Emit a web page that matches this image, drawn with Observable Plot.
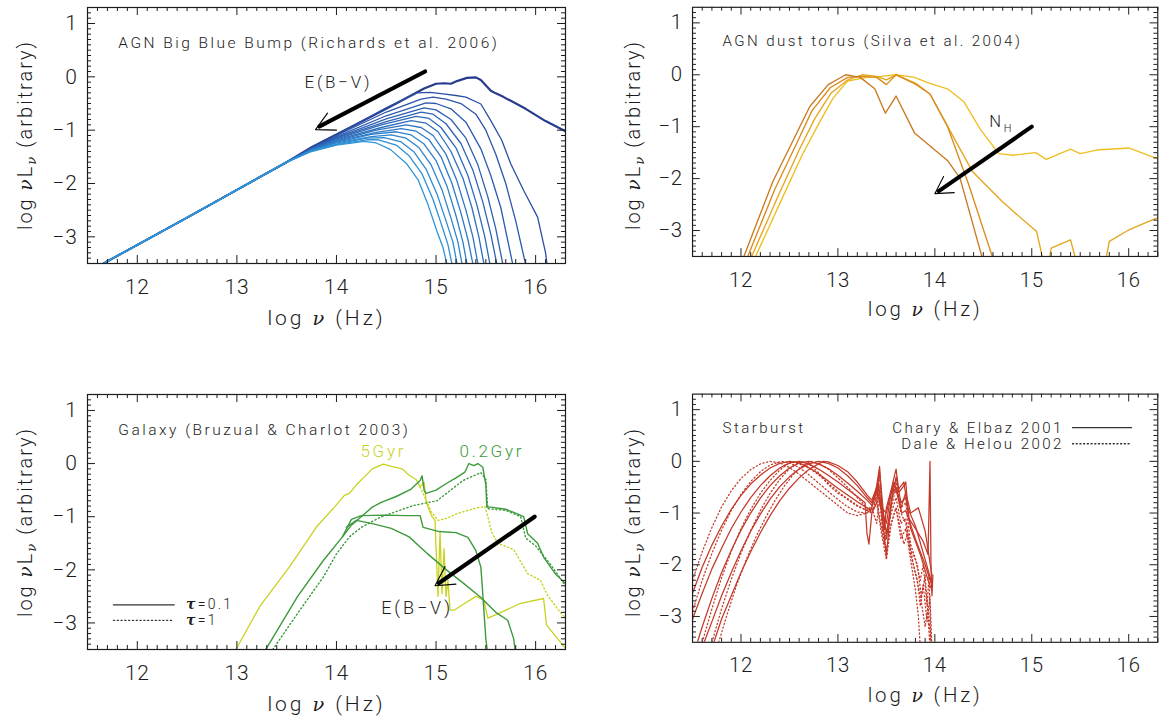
<!DOCTYPE html>
<html><head><meta charset="utf-8">
<script src="https://cdn.jsdelivr.net/npm/d3@7"></script>
<script src="https://cdn.jsdelivr.net/npm/@observablehq/plot@0.6"></script>
<style>
html,body{margin:0;padding:0;background:#fff;}
body{width:1168px;height:719px;overflow:hidden;position:relative;}
.panel{position:absolute;}
.ylab{position:absolute;width:320px;height:26px;line-height:26px;text-align:center;transform:rotate(-90deg);transform-origin:50% 50%;
  font-family:Roboto,"Open Sans",sans-serif;font-weight:300;font-size:20px;letter-spacing:0.1em;color:#1c1c1c;white-space:nowrap;}
.ylab .g{font-family:"DejaVu Serif",serif;font-style:italic;font-weight:400;font-size:92%;}
.ylab .s{font-size:66%;position:relative;top:0.32em;}
</style></head><body>
<div id="p1" class="panel" style="left:0px;top:0px"></div>
<div id="p2" class="panel" style="left:584px;top:0px"></div>
<div id="p3" class="panel" style="left:0px;top:380px"></div>
<div id="p4" class="panel" style="left:584px;top:380px"></div>
<script>
// ---------- shared axis definitions ----------
const xDomain = [11.5, 16.3];
const yDomain = [-3.5, 1.3];
const xMajorTicks = [12, 13, 14, 15, 16];
const yMajorTicks = [-3, -2, -1, 0, 1];
const xTitle = "log ν (Hz)";
const yTitle = "log νL_ν (arbitrary)";

// ---------- Panel 1: AGN Big Blue Bump (Richards et al. 2006) ----------
const agnTitle = "AGN Big Blue Bump (Richards et al. 2006)";
const agnShared = [[11.66,-3.5],[12.5,-2.64],[13.0,-2.12],[13.5,-1.6]];
const agnTop = [[13.75,-1.32],[14.2,-0.89],[14.6,-0.5],[14.88,-0.22],[15.0,-0.13],[15.08,-0.12],[15.15,-0.13],[15.21,-0.08],[15.31,-0.02],[15.4,-0.01],[15.45,-0.06],[15.55,-0.26],[15.6,-0.31],[15.68,-0.38],[15.9,-0.6],[16.1,-0.83],[16.3,-1.02]];
const agnReddened = [
  [[13.75,-1.33],[14.0,-1.09],[14.5,-0.58],[14.81,-0.3],[14.94,-0.29],[15.07,-0.32],[15.2,-0.35],[15.3,-0.38],[15.45,-0.51],[15.55,-0.82],[15.66,-1.19],[15.75,-1.63],[15.88,-2.13],[16.02,-2.63],[16.1,-3.3],[16.12,-3.6]],
  [[13.75,-1.34],[14.0,-1.1],[14.5,-0.66],[14.85,-0.42],[14.97,-0.38],[15.1,-0.42],[15.25,-0.5],[15.4,-0.7],[15.5,-1.0],[15.6,-1.45],[15.7,-2.0],[15.8,-2.7],[15.91,-3.6]],
  [[13.75,-1.34],[14.0,-1.12],[14.5,-0.73],[14.9,-0.49],[15.0,-0.5],[15.15,-0.6],[15.3,-0.85],[15.45,-1.35],[15.55,-1.85],[15.65,-2.45],[15.78,-3.6]],
  [[13.75,-1.35],[14.0,-1.14],[14.5,-0.79],[14.88,-0.58],[15.0,-0.62],[15.15,-0.8],[15.3,-1.15],[15.42,-1.65],[15.52,-2.25],[15.6,-2.85],[15.68,-3.6]],
  [[13.75,-1.35],[14.0,-1.15],[14.5,-0.84],[14.85,-0.66],[14.97,-0.7],[15.1,-0.88],[15.25,-1.25],[15.37,-1.75],[15.47,-2.35],[15.55,-2.95],[15.62,-3.6]],
  [[13.75,-1.36],[14.0,-1.17],[14.45,-0.9],[14.8,-0.74],[14.93,-0.78],[15.05,-0.95],[15.2,-1.33],[15.32,-1.85],[15.41,-2.4],[15.49,-3.0],[15.55,-3.6]],
  [[13.75,-1.36],[14.0,-1.18],[14.45,-0.95],[14.75,-0.82],[14.9,-0.87],[15.02,-1.03],[15.15,-1.4],[15.27,-1.9],[15.36,-2.45],[15.43,-3.0],[15.49,-3.6]],
  [[13.75,-1.37],[14.0,-1.2],[14.4,-1.0],[14.7,-0.9],[14.85,-0.95],[14.97,-1.1],[15.1,-1.45],[15.21,-1.95],[15.3,-2.5],[15.37,-3.0],[15.43,-3.6]],
  [[13.75,-1.37],[14.0,-1.21],[14.4,-1.04],[14.65,-0.97],[14.8,-1.02],[14.93,-1.18],[15.05,-1.5],[15.16,-2.0],[15.25,-2.55],[15.32,-3.05],[15.38,-3.6]],
  [[13.75,-1.38],[14.0,-1.23],[14.35,-1.08],[14.6,-1.03],[14.75,-1.09],[14.88,-1.26],[15.0,-1.57],[15.11,-2.05],[15.2,-2.6],[15.27,-3.1],[15.32,-3.6]],
  [[13.75,-1.38],[14.0,-1.24],[14.35,-1.12],[14.55,-1.09],[14.7,-1.15],[14.83,-1.33],[14.95,-1.65],[15.06,-2.12],[15.15,-2.65],[15.22,-3.1],[15.27,-3.6]],
  [[13.75,-1.39],[14.0,-1.26],[14.3,-1.15],[14.48,-1.14],[14.65,-1.22],[14.78,-1.41],[14.9,-1.73],[15.01,-2.2],[15.1,-2.7],[15.17,-3.1],[15.22,-3.6]],
  [[13.75,-1.39],[14.0,-1.27],[14.3,-1.18],[14.42,-1.18],[14.6,-1.28],[14.73,-1.48],[14.86,-1.82],[14.97,-2.3],[15.06,-2.8],[15.12,-3.15],[15.17,-3.6]],
  [[13.75,-1.4],[14.0,-1.28],[14.28,-1.21],[14.4,-1.24],[14.54,-1.36],[14.7,-1.62],[14.82,-1.93],[14.92,-2.4],[15.01,-2.9],[15.07,-3.2],[15.12,-3.6]]
];
const agnArrowShaft = [[14.89,0.10],[13.83,-0.93]];
const agnArrowHead = [[13.91,-0.68],[13.79,-0.99],[14.0,-1.0]];
const agnArrowLabel = {x: 14.02, y: -0.11, t: "E(B−V)"};

// ---------- Panel 2: AGN dust torus (Silva et al. 2004) ----------
const torusTitle = "AGN dust torus (Silva et al. 2004)";
const torusA = [[12.03,-3.5],[12.33,-2.05],[12.56,-1.18],[12.71,-0.61],[12.9,-0.19],[13.08,0.0],[13.23,-0.05],[13.38,-0.27],[13.49,-0.74],[13.6,-0.41],[13.79,-1.12],[14.13,-1.65],[14.26,-1.99],[14.5,-3.6]];
const torusB = [[12.07,-3.5],[12.35,-2.2],[12.58,-1.3],[12.73,-0.7],[12.92,-0.25],[13.1,-0.05],[13.25,-0.03],[13.4,-0.05],[13.5,-0.19],[13.6,0.0],[13.8,-0.18],[13.95,-0.37],[14.13,-0.99],[14.35,-2.12],[14.61,-3.6]];
const torusC = [[12.11,-3.5],[12.38,-2.35],[12.6,-1.45],[12.76,-0.85],[12.93,-0.35],[13.1,-0.1],[13.25,0.0],[13.4,-0.03],[13.5,-0.1],[13.6,0.0],[13.8,-0.16],[13.95,-0.37],[14.13,-0.99],[14.39,-1.87],[14.69,-2.43],[14.84,-2.68],[15.05,-3.02],[15.12,-3.6],[15.15,-3.9],[15.2,-3.34],[15.4,-3.18],[15.46,-3.6],[15.6,-3.9],[15.76,-3.6],[15.8,-3.21],[16.0,-2.99],[16.3,-2.75]];
const torusD = [[12.15,-3.5],[12.42,-2.4],[12.63,-1.55],[12.8,-0.95],[12.95,-0.45],[13.1,-0.12],[13.3,-0.05],[13.45,-0.03],[13.6,0.0],[13.79,-0.05],[13.94,-0.16],[14.13,-0.27],[14.3,-0.52],[14.47,-1.05],[14.66,-1.52],[14.81,-1.55],[15.04,-1.5],[15.15,-1.63],[15.4,-1.43],[15.5,-1.52],[15.67,-1.45],[16.0,-1.41],[16.3,-1.62]];
const torusArrowShaft = [[15.0,-1.0],[14.04,-2.24]];
const torusArrowHead = [[14.09,-1.96],[14.0,-2.29],[14.2,-2.27]];
const torusArrowLabel = {x: 14.69, y: -0.9, t: "N_H"};

// ---------- Panel 3: Galaxy (Bruzual & Charlot 2003) ----------
const galTitle = "Galaxy (Bruzual & Charlot 2003)";
const gal5GyrSolid = [[12.99,-3.5],[13.23,-2.69],[13.53,-1.94],[13.8,-1.19],[13.98,-0.82],[14.08,-0.6],[14.13,-0.56],[14.2,-0.4],[14.28,-0.25],[14.36,-0.1],[14.47,-0.01],[14.54,-0.05],[14.66,-0.1],[14.73,-0.22],[14.8,-0.3],[14.84,-0.44],[14.88,-0.35],[14.9,-0.7],[14.92,-0.82],[14.96,-1.0],[14.99,-1.07],[15.0,-1.6],[15.02,-2.5],[15.04,-1.3],[15.06,-2.45],[15.08,-1.6],[15.1,-2.5],[15.12,-2.2],[15.14,-2.76],[15.18,-2.76],[15.29,-2.63],[15.4,-2.5],[15.48,-2.57],[15.52,-2.91],[15.63,-2.82],[15.85,-2.63],[16.08,-2.54],[16.11,-3.04],[16.3,-3.48]];
const gal5GyrDotted = [[14.84,-0.44],[14.87,-0.56],[14.95,-0.9],[15.02,-1.07],[15.11,-1.03],[15.2,-0.95],[15.32,-0.88],[15.42,-0.83],[15.49,-0.81],[15.52,-1.0],[15.56,-1.3],[15.62,-1.5],[15.78,-1.62],[15.92,-2.07],[16.05,-2.2],[16.11,-2.45],[16.23,-2.76],[16.3,-2.91]];
const gal02Solid = [[13.29,-3.5],[13.61,-2.5],[13.87,-1.82],[14.06,-1.38],[14.15,-1.16],[14.36,-0.82],[14.45,-0.73],[14.6,-0.62],[14.75,-0.48],[14.84,-0.32],[14.86,-0.23],[14.88,-0.5],[14.9,-0.56],[15.0,-0.5],[15.1,-0.38],[15.2,-0.27],[15.29,-0.16],[15.33,0.0],[15.38,-0.04],[15.42,0.0],[15.47,-0.07],[15.5,-0.4],[15.51,-0.82],[15.55,-0.82],[15.7,-0.86],[15.78,-0.92],[15.88,-1.0],[15.92,-1.32],[16.02,-1.5],[16.08,-1.76],[16.2,-2.08],[16.3,-2.26]];
const gal02Dotted = [[13.36,-3.5],[13.61,-2.82],[13.87,-2.13],[14.0,-1.7],[14.13,-1.38],[14.25,-1.2],[14.44,-1.01],[14.77,-0.79],[15.01,-0.7],[15.27,-0.32],[15.45,-0.17],[15.5,-0.3],[15.52,-0.85],[15.7,-0.88],[15.85,-1.0],[15.9,-1.4],[16.0,-1.55],[16.15,-1.9],[16.3,-2.3]];
const gal02RedA = [[14.06,-1.38],[14.15,-1.05],[14.25,-0.98],[14.5,-0.97],[14.7,-0.98],[14.84,-0.98],[14.87,-1.2],[14.91,-1.22],[15.03,-1.28],[15.2,-1.3],[15.32,-1.39],[15.4,-1.64],[15.45,-1.95],[15.46,-2.2],[15.5,-3.3],[15.52,-3.6]];
const gal02RedB = [[14.1,-1.2],[14.2,-1.07],[14.36,-1.13],[14.55,-1.22],[14.73,-1.38],[14.84,-1.57],[14.91,-1.69],[15.11,-2.01],[15.28,-2.26],[15.45,-2.52],[15.6,-2.8],[15.72,-2.95],[15.78,-3.3],[15.8,-3.6]];
const galArrowShaft = [[15.99,-1.0],[15.03,-2.25]];
const galArrowHead = [[15.09,-1.94],[14.99,-2.3],[15.2,-2.27]];
const galArrowLabel = {x: 14.81, y: -2.72, t: "E(B−V)"};
const galAgeLabels = [{x: 14.47, y: 0.23, t: "5Gyr", c: "young"}, {x: 15.56, y: 0.23, t: "0.2Gyr", c: "old"}];
const galLegend = [{t: "τ=0.1", y: -2.66, dash: false}, {t: "τ=1", y: -2.95, dash: true}];
const galLegendX = [11.76, 12.37];

// ---------- Panel 4: Starburst ----------
const sbTitle = "Starburst";
const sbChary = [
  [[11.5,-2.55],[11.6,-2.05],[11.7,-1.62],[11.8,-1.25],[11.9,-0.93],[12.0,-0.66],[12.1,-0.44],[12.2,-0.27],[12.3,-0.13],[12.4,-0.04],[12.5,0],[12.6,-0.03],[12.7,-0.12],[12.8,-0.24],[12.9,-0.38],[13.0,-0.52],[13.1,-0.65],[13.2,-0.78],[13.3,-0.9],[13.34,-0.95],[13.38,-0.7],[13.41,-0.35],[13.43,-0.1],[13.45,-0.75],[13.48,-1.3],[13.5,-0.9],[13.55,-0.55],[13.58,-0.3],[13.6,-0.15],[13.63,-0.6],[13.67,-0.5],[13.7,-0.4],[13.73,-1.1],[13.8,-1.3],[13.88,-1.55],[13.93,-1.8],[13.95,0.0],[13.96,-2.0],[13.97,-2.6],[13.98,-2.2]],
  [[11.5,-3.05],[11.6,-2.55],[11.7,-2.08],[11.8,-1.68],[11.9,-1.3],[12.0,-0.98],[12.1,-0.7],[12.2,-0.47],[12.3,-0.28],[12.4,-0.13],[12.5,-0.03],[12.6,0],[12.7,-0.05],[12.8,-0.15],[12.9,-0.27],[13.0,-0.4],[13.1,-0.54],[13.2,-0.68],[13.28,-0.8],[13.3,-1.4],[13.32,-1.6],[13.35,-1.0],[13.4,-0.8],[13.42,-0.45],[13.46,-1.1],[13.5,-1.85],[13.53,-1.2],[13.57,-0.45],[13.6,-0.5],[13.65,-0.9],[13.7,-0.6],[13.75,-1.0],[13.83,-0.9],[13.9,-1.35],[13.97,-2.2]],
  [[11.55,-3.5],[11.6,-3.2],[11.7,-2.65],[11.8,-2.15],[11.9,-1.72],[12.0,-1.33],[12.1,-1.0],[12.2,-0.71],[12.3,-0.47],[12.4,-0.28],[12.5,-0.13],[12.6,-0.03],[12.7,0],[12.8,-0.05],[12.9,-0.14],[13.0,-0.27],[13.1,-0.42],[13.2,-0.58],[13.3,-0.75],[13.35,-0.85],[13.4,-0.6],[13.43,-0.2],[13.47,-1.0],[13.5,-1.4],[13.55,-0.8],[13.6,-0.3],[13.65,-0.8],[13.7,-0.7],[13.75,-1.3],[13.85,-1.8],[13.93,-2.3],[13.97,-2.5]],
  [[11.62,-3.5],[11.7,-3.1],[11.8,-2.6],[11.9,-2.15],[12.0,-1.73],[12.1,-1.35],[12.2,-1.02],[12.3,-0.73],[12.4,-0.49],[12.5,-0.3],[12.6,-0.15],[12.7,-0.05],[12.8,0],[12.9,-0.04],[13.0,-0.13],[13.1,-0.28],[13.2,-0.47],[13.3,-0.7],[13.35,-0.8],[13.4,-0.55],[13.44,-0.9],[13.5,-1.2],[13.55,-0.6],[13.58,-0.4],[13.62,-0.7],[13.66,-1.0],[13.7,-0.95],[13.8,-1.5],[13.9,-2.0],[13.97,-2.4]],
  [[11.72,-3.5],[11.8,-3.05],[11.9,-2.6],[12.0,-2.15],[12.1,-1.75],[12.2,-1.38],[12.3,-1.05],[12.4,-0.76],[12.5,-0.52],[12.6,-0.32],[12.7,-0.16],[12.8,-0.05],[12.85,0],[12.9,-0.01],[13.0,-0.08],[13.1,-0.2],[13.2,-0.4],[13.3,-0.65],[13.35,-0.75],[13.4,-0.5],[13.45,-0.9],[13.5,-1.0],[13.56,-0.5],[13.6,-0.6],[13.68,-0.4],[13.72,-0.9],[13.8,-1.25],[13.9,-1.9],[13.96,-2.3]]
];
const sbDale = [
  [[11.5,-2.3],[11.6,-1.75],[11.7,-1.28],[11.8,-0.88],[11.9,-0.57],[12.0,-0.33],[12.1,-0.16],[12.2,-0.05],[12.3,0],[12.4,-0.03],[12.5,-0.12],[12.6,-0.25],[12.7,-0.4],[12.8,-0.55],[12.9,-0.7],[13.0,-0.85],[13.1,-1.0],[13.2,-1.05],[13.3,-1.0],[13.35,-0.9],[13.4,-1.2],[13.43,-0.7],[13.47,-1.5],[13.5,-1.7],[13.55,-1.2],[13.6,-0.9],[13.65,-1.5],[13.7,-1.3],[13.75,-1.9],[13.8,-2.5],[13.83,-3.0],[13.85,-3.6]],
  [[11.5,-2.9],[11.6,-2.3],[11.7,-1.78],[11.8,-1.33],[11.9,-0.95],[12.0,-0.64],[12.1,-0.39],[12.2,-0.2],[12.3,-0.07],[12.42,0],[12.5,-0.03],[12.6,-0.12],[12.7,-0.26],[12.8,-0.42],[12.9,-0.58],[13.0,-0.74],[13.1,-0.88],[13.2,-0.98],[13.3,-1.0],[13.35,-0.9],[13.4,-0.5],[13.43,-0.3],[13.46,-1.1],[13.5,-1.5],[13.55,-0.8],[13.6,-0.4],[13.65,-0.9],[13.7,-0.8],[13.75,-1.6],[13.82,-2.0],[13.86,-2.6],[13.9,-2.2],[13.93,-3.0],[13.95,-3.6]],
  [[11.6,-3.5],[11.7,-2.85],[11.8,-2.25],[11.9,-1.74],[12.0,-1.3],[12.1,-0.93],[12.2,-0.62],[12.3,-0.37],[12.4,-0.17],[12.52,0],[12.6,-0.05],[12.7,-0.13],[12.8,-0.26],[12.9,-0.42],[13.0,-0.58],[13.1,-0.74],[13.2,-0.87],[13.3,-0.95],[13.35,-1.0],[13.4,-0.7],[13.44,-1.2],[13.48,-1.6],[13.55,-1.0],[13.6,-0.7],[13.65,-1.2],[13.7,-1.1],[13.75,-1.7],[13.8,-1.9],[13.85,-2.3],[13.88,-2.0],[13.92,-2.8],[13.94,-2.2],[13.96,-3.6]],
  [[11.7,-3.5],[11.8,-2.85],[11.9,-2.28],[12.0,-1.78],[12.1,-1.34],[12.2,-0.95],[12.3,-0.62],[12.4,-0.35],[12.5,-0.14],[12.62,0],[12.7,-0.05],[12.8,-0.22],[12.9,-0.45],[13.0,-0.62],[13.1,-0.72],[13.2,-0.85],[13.3,-0.95],[13.38,-0.8],[13.42,-0.4],[13.46,-1.3],[13.5,-1.5],[13.55,-0.9],[13.6,-0.5],[13.65,-1.0],[13.7,-1.2],[13.75,-1.8],[13.82,-2.3],[13.85,-2.8],[13.88,-2.4],[13.92,-3.1],[13.95,-2.6],[13.97,-3.6]],
  [[11.77,-3.5],[11.85,-3.0],[11.95,-2.42],[12.05,-1.92],[12.15,-1.48],[12.25,-1.1],[12.35,-0.76],[12.45,-0.47],[12.55,-0.23],[12.65,-0.07],[12.72,0],[12.8,-0.04],[12.9,-0.15],[13.0,-0.32],[13.1,-0.5],[13.2,-0.7],[13.3,-0.9],[13.35,-1.0],[13.4,-0.8],[13.45,-1.4],[13.5,-1.9],[13.55,-1.2],[13.6,-0.9],[13.68,-1.6],[13.72,-1.4],[13.78,-2.0],[13.85,-2.6],[13.9,-3.2],[13.93,-2.8],[13.96,-3.6]]
];
const sbLegend = [{t: "Chary & Elbaz 2001", y: 0.65, dash: false}, {t: "Dale & Helou 2002", y: 0.34, dash: true}];
const sbLegendTextX = 15.33;
const sbLegendLineX = [15.42, 16.03];

// ---------- styling ----------
const ink = "#1c1c1c";
const FONT = 'Roboto, "Open Sans", "Liberation Sans", sans-serif';
const DOT = "1.2,2.6";
const titleX = 11.81, titleY = 0.64;
const wideTexts = new Set([agnTitle, torusTitle, galTitle, sbTitle, ...sbLegend.map(d => d.t), ...galLegend.map(d => d.t), "E(B−V)", "5Gyr", "0.2Gyr"]);

function curve(pts, stroke, strokeWidth = 1.3, dash = null) {
  return Plot.line(pts, {x: d => d[0], y: d => d[1], stroke, strokeWidth, strokeDasharray: dash, clip: true, strokeLinejoin: "round"});
}

function tokens(t) {
  const toks = [];
  for (let i = 0; i < t.length;) {
    let sub = false, ch = t[i];
    if (ch === "_") { sub = true; ch = t[i + 1]; i += 2; } else i += 1;
    const greek = (ch === "ν" || ch === "τ") ? ch : null;
    const last = toks[toks.length - 1];
    if (last && !greek && !last.greek && last.sub === sub) last.s += ch;
    else toks.push({s: ch, sub, greek});
  }
  return toks;
}

function panel(o) {
  const W = o.width - o.marginLeft - o.marginRight;
  const H = o.height - o.marginTop - o.marginBottom;
  const xMinor = d3.range(11.6, 16.3, 0.1).map(v => +v.toFixed(1)).filter(v => !xMajorTicks.includes(v));
  const yMinor = d3.range(-3.4, 1.3, 0.1).map(v => +v.toFixed(1)).filter(v => !yMajorTicks.includes(v));
  const tk = {stroke: ink, strokeWidth: 1};
  const marks = [
    ...o.marks,
    Plot.tickX(xMajorTicks, {x: d => d, insetTop: H - 8, ...tk}),
    Plot.tickX(xMajorTicks, {x: d => d, insetBottom: H - 8, ...tk}),
    Plot.tickX(xMinor, {x: d => d, insetTop: H - 4, ...tk}),
    Plot.tickX(xMinor, {x: d => d, insetBottom: H - 4, ...tk}),
    Plot.tickY(yMajorTicks, {y: d => d, insetRight: W - 8, ...tk}),
    Plot.tickY(yMajorTicks, {y: d => d, insetLeft: W - 8, ...tk}),
    Plot.tickY(yMinor, {y: d => d, insetRight: W - 4, ...tk}),
    Plot.tickY(yMinor, {y: d => d, insetLeft: W - 4, ...tk}),
    Plot.frame({stroke: ink, strokeWidth: 1.2}),
    Plot.axisX(xMajorTicks, {tickSize: 0, tickPadding: 16, fontSize: 21, label: null, tickFormat: d => String(d), fill: ink}),
    Plot.axisY(yMajorTicks, {tickSize: 0, tickPadding: 10, fontSize: 21, label: null, tickFormat: d => d < 0 ? "\u2212" + Math.abs(d) : String(d), fill: ink}),
    Plot.text([xTitle], {text: d => d, frameAnchor: "bottom", dy: 61, fontSize: 21, fill: ink}),
    Plot.text([o.title], {text: d => d, x: titleX, y: titleY, textAnchor: "start", fontSize: 15.5, fill: ink})
  ];
  const svg = Plot.plot({
    width: o.width, height: o.height,
    marginLeft: o.marginLeft, marginRight: o.marginRight, marginTop: o.marginTop, marginBottom: o.marginBottom,
    x: {domain: xDomain}, y: {domain: yDomain},
    style: {fontFamily: FONT, fontWeight: 300, letterSpacing: "0.07em", background: "transparent", overflow: "visible", color: ink},
    marks
  });
  const host = document.getElementById(o.el);
  host.appendChild(svg);
  richText(svg);
  // rotated y-axis title as real HTML text (subscript via <span>)
  const cx = o.marginLeft - 62, cy = (o.marginTop + o.height - o.marginBottom) / 2;
  const lab = d3.select(host).append("div").attr("class", "ylab")
    .style("left", (cx - 160) + "px").style("top", (cy - 13) + "px");
  for (const tok of tokens(yTitle)) {
    const sp = lab.append("span").text(tok.s);
    const cls = [tok.greek ? "g" : null, tok.sub ? "s" : null].filter(Boolean).join(" ");
    if (cls) sp.attr("class", cls);
  }
}

function fontSizeOf(node) {
  let n = node;
  while (n && n.getAttribute) { const f = n.getAttribute("font-size"); if (f) return parseFloat(f); n = n.parentNode; }
  return 16;
}

// style Greek letters, subscripts and letter spacing, keeping every text as real text
function richText(svg) {
  d3.select(svg).selectAll("text").each(function() {
    const t = this.textContent;
    if (t === xTitle) this.style.letterSpacing = "0.14em";
    else if (wideTexts.has(t) || t.includes("_")) this.style.letterSpacing = "0.16em";
    if (!/[ντ_]/.test(t)) return;
    const fs = fontSizeOf(this);
    const anchor = getComputedStyle(this).textAnchor;
    const el = d3.select(this);
    el.text(null);
    let shifted = false;
    for (const tok of tokens(t)) {
      const ts = el.append("tspan").text(tok.s);
      if (tok.sub && !shifted) { ts.attr("dy", fs * 0.32); shifted = true; }
      else if (!tok.sub && shifted) { ts.attr("dy", -fs * 0.32); shifted = false; }
      const size = tok.sub ? fs * 0.66 : fs;
      if (tok.sub) ts.attr("font-size", size);
      if (tok.greek === "ν") ts.attr("font-family", '"DejaVu Serif", serif').attr("font-style", "italic").attr("font-weight", 400).attr("font-size", size * 0.92);
      if (tok.greek === "τ") ts.attr("font-family", '"DejaVu Serif", serif').attr("font-style", "italic").attr("font-weight", 700);
    }
    this.setAttribute("text-anchor", "start");
    const x0 = +(this.getAttribute("x") || 0);
    this.setAttribute("x", x0);
    const w = this.getBBox().width;
    if (anchor === "middle") this.setAttribute("x", x0 - w / 2);
    else if (anchor === "end") this.setAttribute("x", x0 - w);
  });
}

function arrowMarks(shaft, head, label, fontSize) {
  return [
    Plot.line(shaft, {x: d => d[0], y: d => d[1], stroke: "#000", strokeWidth: 4.2}),
    Plot.line(head, {x: d => d[0], y: d => d[1], stroke: "#000", strokeWidth: 1.1}),
    Plot.text([label], {x: "x", y: "y", text: "t", fontSize, fill: ink})
  ];
}

// ---------- build panels ----------
const p1 = [];
p1.push(curve(agnShared.concat(agnTop), "#263a8e", 2.2));
const blueScale = d3.interpolateRgb("#2c4fa6", "#2f94d7");
agnReddened.forEach((c, i) => p1.push(curve(agnShared.concat(c), blueScale(i / (agnReddened.length - 1)), 1.3)));
p1.push(...arrowMarks(agnArrowShaft, agnArrowHead, agnArrowLabel, 17));
panel({el: "p1", width: 584, height: 340, marginLeft: 87, marginRight: 19, marginTop: 7, marginBottom: 77, title: agnTitle, marks: p1});

const p2 = [
  curve(torusD, "#efbf22", 1.4),
  curve(torusC, "#e6a51e", 1.4),
  curve(torusB, "#d98c1d", 1.4),
  curve(torusA, "#c97a22", 1.4),
  ...arrowMarks(torusArrowShaft, torusArrowHead, torusArrowLabel, 17)
];
panel({el: "p2", width: 600, height: 340, marginLeft: 111, marginRight: 11, marginTop: 7, marginBottom: 77, title: torusTitle, marks: p2});

const yel = "#c8d21d", grn = "#3c9a3b";
const galLegendLines = galLegend.flatMap(d => galLegendX.map(x => ({x, y: d.y, dash: d.dash})));
const p3 = [
  curve(gal5GyrDotted, yel, 1.4, DOT),
  curve(gal5GyrSolid, yel, 1.3),
  curve(gal02Dotted, grn, 1.4, DOT),
  curve(gal02RedB, grn, 1.4),
  curve(gal02RedA, grn, 1.4),
  curve(gal02Solid, grn, 1.4),
  ...arrowMarks(galArrowShaft, galArrowHead, galArrowLabel, 18),
  Plot.text(galAgeLabels, {x: "x", y: "y", text: "t", fill: d => d.c === "young" ? yel : grn, fontSize: 17}),
  Plot.line(galLegendLines.filter(d => !d.dash), {x: "x", y: "y", stroke: "#333", strokeWidth: 1.3}),
  Plot.line(galLegendLines.filter(d => d.dash), {x: "x", y: "y", stroke: "#333", strokeWidth: 1.3, strokeDasharray: DOT}),
  Plot.text(galLegend, {x: galLegendX[1] + 0.12, y: "y", text: "t", textAnchor: "start", fontSize: 14, fill: ink})
];
panel({el: "p3", width: 584, height: 339, marginLeft: 87, marginRight: 19, marginTop: 14, marginBottom: 70, title: galTitle, marks: p3});

const red = "#c4392a";
const p4 = [];
sbDale.forEach(c => p4.push(curve(c, red, 1.3, DOT)));
sbChary.forEach(c => p4.push(curve(c, red, 1.3)));
const sbLegendLines = sbLegend.flatMap(d => sbLegendLineX.map(x => ({x, y: d.y, dash: d.dash})));
p4.push(
  Plot.line(sbLegendLines.filter(d => !d.dash), {x: "x", y: "y", stroke: "#333", strokeWidth: 1.3}),
  Plot.line(sbLegendLines.filter(d => d.dash), {x: "x", y: "y", stroke: "#333", strokeWidth: 1.3, strokeDasharray: DOT}),
  Plot.text(sbLegend, {x: sbLegendTextX, y: "y", text: "t", textAnchor: "end", fontSize: 15.5, fill: ink})
);
panel({el: "p4", width: 600, height: 339, marginLeft: 111, marginRight: 11, marginTop: 14, marginBottom: 70, title: sbTitle, marks: p4});
</script>
</body></html>
